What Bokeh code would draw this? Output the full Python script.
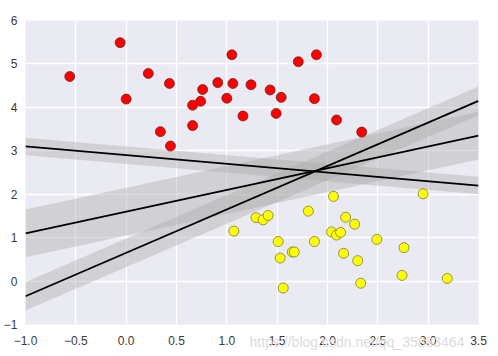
from bokeh.plotting import figure
from bokeh.models import FixedTicker
from bokeh.embed import file_html
from bokeh.resources import INLINE

# red cluster
red_x = [-0.56, -0.06, 0.00, 0.22, 0.43, 0.34, 0.44, 0.66, 0.66, 0.74, 0.76, 0.91, 1.00,
         1.05, 1.06, 1.16, 1.24, 1.43, 1.54, 1.49, 1.71, 1.89, 1.87, 2.09, 2.34]
red_y = [4.71, 5.49, 4.19, 4.78, 4.55, 3.44, 3.11, 4.05, 3.58, 4.14, 4.41, 4.57, 4.21,
         5.21, 4.55, 3.80, 4.52, 4.40, 4.23, 3.86, 5.05, 5.21, 4.20, 3.71, 3.43]
# yellow cluster
yel_x = [1.07, 1.29, 1.36, 1.41, 1.51, 1.53, 1.56, 1.65, 1.67, 1.81, 1.87, 2.06, 2.04,
         2.09, 2.13, 2.18, 2.27, 2.16, 2.30, 2.33, 2.49, 2.76, 2.74, 2.95, 3.19]
yel_y = [1.15, 1.46, 1.41, 1.51, 0.91, 0.53, -0.16, 0.67, 0.67, 1.61, 0.91, 1.95, 1.13,
         1.06, 1.12, 1.47, 1.31, 0.64, 0.47, -0.05, 0.96, 0.77, 0.13, 2.01, 0.06]

# separating lines: y = m*x + b, with band half-width d
slopes = [1.0, 0.5, -0.2]
intercepts = [0.65, 1.6, 2.9]
margins = [0.33, 0.55, 0.2]

x_ticks = [-1.0, -0.5, 0.0, 0.5, 1.0, 1.5, 2.0, 2.5, 3.0, 3.5]
x_tick_labels = ["\u22121.0", "\u22120.5", "0.0", "0.5", "1.0", "1.5", "2.0", "2.5", "3.0", "3.5"]
y_ticks = [-1, 0, 1, 2, 3, 4, 5, 6]
y_tick_labels = ["\u22121", "0", "1", "2", "3", "4", "5", "6"]
watermark = "https://blog.csdn.net/qq_35883464"

x_min, x_max = -1.0, 3.5

p = figure(width=498, height=356, x_range=(x_min, x_max), y_range=(-1, 6),
           output_backend="svg", toolbar_location=None,
           min_border_left=23, min_border_right=20, min_border_top=20, min_border_bottom=32)
p.background_fill_color = "#EAEAF2"
p.border_fill_color = "white"
p.outline_line_color = None

for ax in (p.xaxis[0], p.yaxis[0]):
    ax.axis_line_color = None
    ax.major_tick_line_color = None
    ax.minor_tick_line_color = None
    ax.major_tick_out = 0
    ax.major_tick_in = 0
    ax.minor_tick_out = 0
    ax.minor_tick_in = 0
    ax.major_label_text_font = "Liberation Sans"
    ax.major_label_text_font_size = "12px"
    ax.major_label_text_color = "#3a3a3a"

p.xaxis.major_label_standoff = 11
p.yaxis.major_label_standoff = 8

# faint watermark drawn as the x-axis label, overlapping the tick-label row;
# the label is centred, so non-breaking spaces push it toward the right end
p.xaxis.axis_label = "\u00a0" * 54 + watermark
p.xaxis.axis_label_standoff = -14
p.xaxis.axis_label_align = "center"
p.xaxis.axis_label_text_font = "Liberation Sans"
p.xaxis.axis_label_text_font_style = "normal"
p.xaxis.axis_label_text_font_size = "14px"
p.xaxis.axis_label_text_color = "#dcdcdc"

p.xaxis.ticker = FixedTicker(ticks=x_ticks)
p.xaxis.major_label_overrides = {t: l for t, l in zip(x_ticks, x_tick_labels)}
p.yaxis.ticker = FixedTicker(ticks=y_ticks)
p.yaxis.major_label_overrides = {t: l for t, l in zip(y_ticks, y_tick_labels)}

p.xgrid.ticker = FixedTicker(ticks=x_ticks)
p.ygrid.ticker = FixedTicker(ticks=y_ticks)
p.grid.grid_line_color = "white"
p.grid.grid_line_width = 1.3

xs = [x_min, x_max]
for m, b, d in zip(slopes, intercepts, margins):
    ys = [m * x + b for x in xs]
    p.varea(x=xs, y1=[y - d for y in ys], y2=[y + d for y in ys],
            fill_color="#AAAAAA", fill_alpha=0.4)
for m, b, d in zip(slopes, intercepts, margins):
    ys = [m * x + b for x in xs]
    p.line(xs, ys, line_color="black", line_width=1.8)

p.scatter(red_x, red_y, size=10, fill_color="#FF0000", line_color="#5a2020", line_width=0.7)
p.scatter(yel_x, yel_y, size=10, fill_color="#FFFF00", line_color="#6a6a30", line_width=0.7)

open("out.html", "w").write(file_html(p, INLINE))
